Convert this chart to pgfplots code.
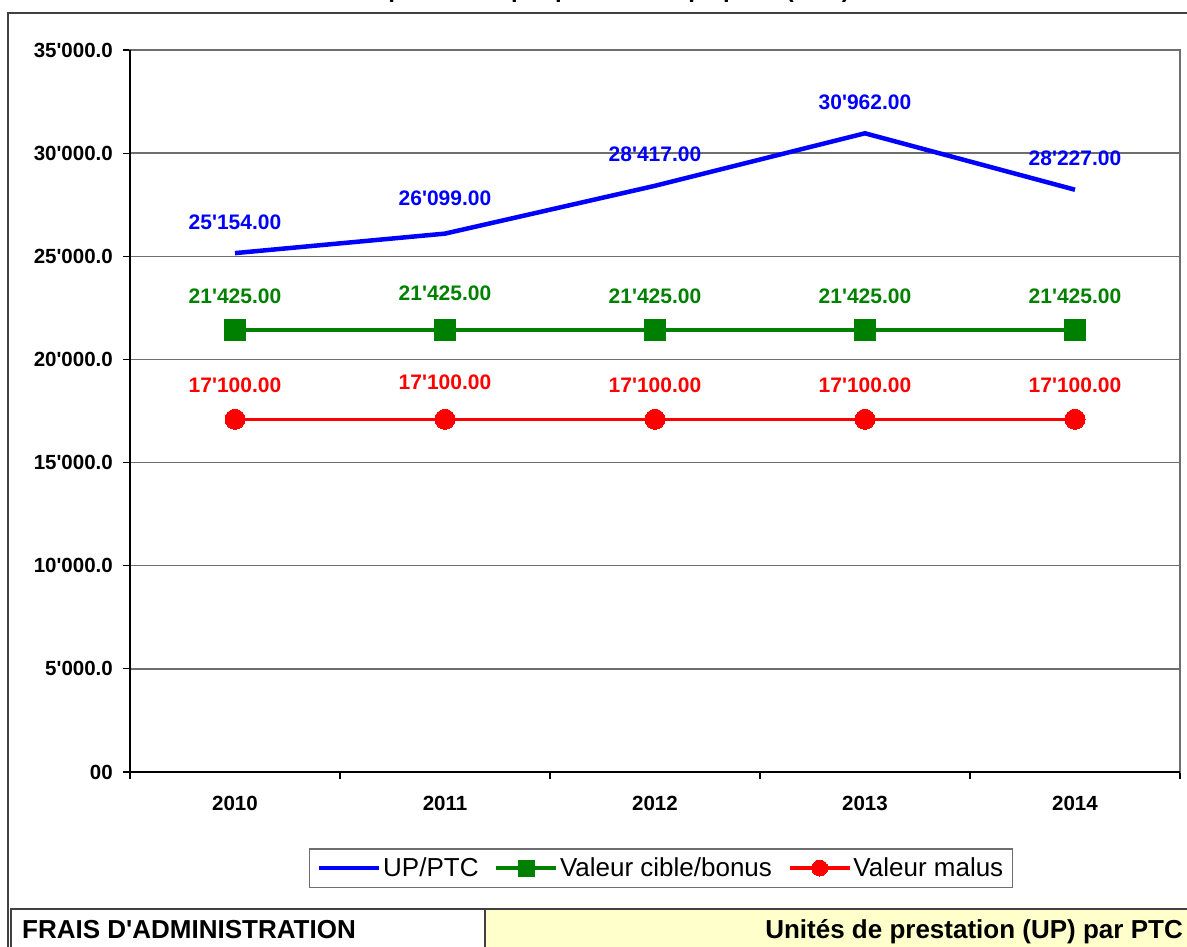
\documentclass[border=0pt]{standalone}
\usepackage{pgfplots}
\pgfplotsset{compat=1.18}
\usepackage{fontspec}
\setmainfont{Liberation Sans}
\newfontfamily\arial{Liberation Sans}
\definecolor{xlblue}{RGB}{0,0,255}
\definecolor{xlgreen}{RGB}{0,128,0}
\definecolor{xlred}{RGB}{255,0,0}
\definecolor{gridc}{RGB}{110,110,110}
\definecolor{framec}{RGB}{64,64,64}
\definecolor{cellyellow}{RGB}{255,255,204}
\newcommand\fbold[1]{\arial\bfseries\fontsize{#1}{#1}\selectfont}
\newcommand\freg[1]{\arial\fontsize{#1}{#1}\selectfont}
\begin{document}
\begin{tikzpicture}
\useasboundingbox (0bp,0bp) rectangle (1187bp,-947bp);
\clip (0bp,0bp) rectangle (1187bp,-947bp);
% title (cut off at the top, as in the reference)
\node[anchor=base east, inner sep=0pt, font=\fbold{24bp}] at (850bp,2.5bp) {Unités de prestation par poste à temps plein (PTC)};
% outer frame
\draw[line width=2bp, framec] (8bp,-13bp) rectangle (1200bp,-980bp);
\begin{axis}[
  at={(130bp,-772bp)}, anchor=south west,
  scale only axis, width=1050bp, height=722bp,
  xmin=-0.5, xmax=4.5, ymin=0, ymax=35000,
  scaled y ticks=false,
  xtick={0,1,2,3,4}, xticklabels={2010,2011,2012,2013,2014},
  minor xtick={-0.5,0.5,1.5,2.5,3.5,4.5},
  every major x tick/.append style={draw=none},
  ytick={0,5000,10000,15000,20000,25000,30000,35000},
  yticklabels={00,5'000.0,10'000.0,15'000.0,20'000.0,25'000.0,30'000.0,35'000.0},
  tick align=outside, tick pos=left,
  major tick length=7bp, minor tick length=7bp,
  every tick/.append style={black, line width=1.2bp},
  ymajorgrids, grid style={gridc, line width=1.3bp},
  axis line style={gridc, line width=1.3bp},
  xticklabel style={font=\fbold{20.5bp}, inner sep=0pt, yshift=-17bp},
  yticklabel style={font=\fbold{20.5bp}, inner sep=0pt, xshift=-10bp},
  point meta=explicit symbolic,
  clip=false,
  legend columns=3,
  legend style={at={(0.5057,-0.133)}, anchor=center, draw=gridc, line width=1.3bp,
    font=\freg{26bp}, inner xsep=7bp, inner ysep=7bp,
    /tikz/every even column/.append style={column sep=14bp}},
  legend cell align=left,
  legend image code/.code={\draw[mark repeat=2,mark phase=2,#1,mark size=8bp] plot coordinates {(0bp,0bp) (30bp,0bp) (60bp,0bp)};},
]
\addplot[xlblue, line width=4.5bp, no marks,
  nodes near coords, every node near coord/.append style={font=\fbold{21bp}, text=xlblue, anchor=base, inner sep=0pt, yshift=24bp}]
  coordinates {(0,25154) [25'154.00] (1,26099) [\raisebox{4.5bp}{26'099.00}] (2,28417) [28'417.00] (3,30962) [30'962.00] (4,28227) [28'227.00]};
\addlegendentry{UP/PTC}
\addplot[xlgreen, line width=3.5bp, mark=square*, mark size=10.5bp, mark options={solid, line width=0pt},
  nodes near coords, every node near coord/.append style={font=\fbold{21bp}, text=xlgreen, anchor=base, inner sep=0pt, yshift=26.5bp}]
  coordinates {(0,21425) [21'425.00] (1,21425) [\raisebox{3bp}{21'425.00}] (2,21425) [21'425.00] (3,21425) [21'425.00] (4,21425) [21'425.00]};
\addlegendentry{Valeur cible/bonus}
\addplot[xlred, line width=3.5bp, mark=*, mark size=10bp, mark options={solid, line width=0pt},
  nodes near coords, every node near coord/.append style={font=\fbold{21bp}, text=xlred, anchor=base, inner sep=0pt, yshift=26.5bp}]
  coordinates {(0,17100) [17'100.00] (1,17100) [\raisebox{3bp}{17'100.00}] (2,17100) [17'100.00] (3,17100) [17'100.00] (4,17100) [17'100.00]};
\addlegendentry{Valeur malus}
\end{axis}
% black left and bottom axis lines
\draw[black, line width=1.3bp] (130bp,-50bp) -- (130bp,-772bp) -- (1180bp,-772bp);
% bottom table
\draw[framec, line width=1.3bp, fill=white] (11bp,-909bp) rectangle (485bp,-990bp);
\draw[framec, line width=1.3bp, fill=cellyellow] (485bp,-909bp) rectangle (1220bp,-990bp);
\node[anchor=base west, inner sep=0pt, font=\fbold{26bp}] at (22bp,-938bp) {FRAIS D'ADMINISTRATION};
\node[anchor=base east, inner sep=0pt, font=\fbold{26bp}] at (1183bp,-938bp) {Unités de prestation (UP) par PTC};
\end{tikzpicture}
\end{document}
